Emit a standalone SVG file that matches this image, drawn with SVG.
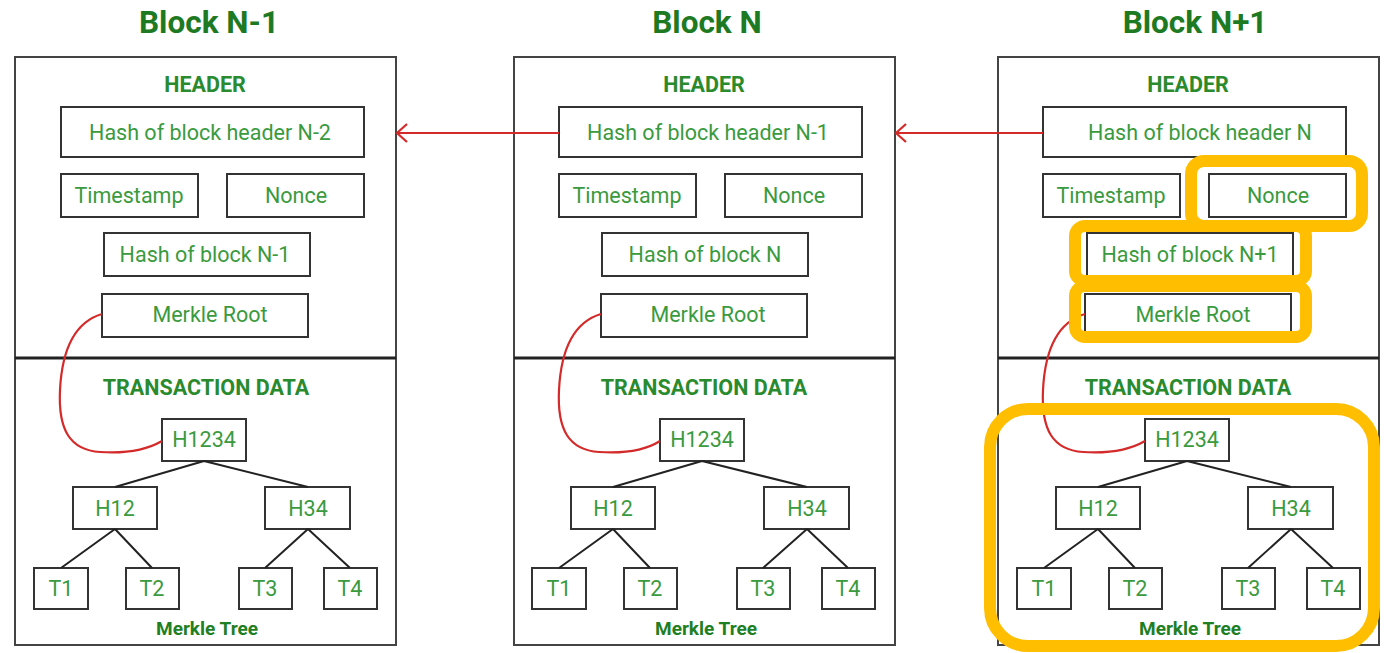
<svg xmlns="http://www.w3.org/2000/svg" width="1385" height="653" viewBox="0 0 1385 653">
<defs>
<style>
.title{font-family:Roboto,"Liberation Sans",sans-serif;font-weight:700;font-size:31.5px;fill:#1e7a22;text-anchor:middle}
.sec{font-family:Roboto,"Liberation Sans",sans-serif;font-weight:700;font-size:21.5px;fill:#2a8a2e;text-anchor:middle}
.cap{font-family:Roboto,"Liberation Sans",sans-serif;font-weight:700;font-size:19px;fill:#1f7f24;text-anchor:middle}
.lbl{font-family:Roboto,"Liberation Sans",sans-serif;font-size:21.5px;fill:#3a9a3e;text-anchor:middle}
.outer{fill:#fff;stroke:#444;stroke-width:2}
.div{stroke:#222;stroke-width:3}
.box{fill:#fff;stroke:#333;stroke-width:2}
.edge{stroke:#222;stroke-width:2;fill:none}
.red{stroke:#d42a2a;stroke-width:2.2;fill:none}
.hl{fill:none;stroke:#ffbf00;stroke-width:12}
</style>
<marker id="chev" markerUnits="userSpaceOnUse" viewBox="-1 -11 13 22" markerWidth="13" markerHeight="22" refX="10" refY="0" orient="auto">
<path d="M0,-9 L10,0 L0,9" fill="none" stroke="#d42a2a" stroke-width="2.2"/>
</marker>
</defs>
<rect width="1385" height="653" fill="#fff"/>

<!-- Block N-1 -->
<g id="block-n-1">
<text class="title" x="209" y="33">Block N-1</text>
<rect class="outer" x="15" y="57" width="381" height="588"/>
<line class="div" x1="15" y1="358" x2="396" y2="358"/>
<text class="sec" x="205" y="92">HEADER</text>
<text class="sec" x="206" y="395">TRANSACTION DATA</text>
<text class="cap" x="207" y="635">Merkle Tree</text>
<g id="b1-prevhash"><rect class="box" x="61" y="107" width="303" height="50"/><text class="lbl" x="210" y="140">Hash of block header N-2</text></g>
<g id="b1-timestamp"><rect class="box" x="61" y="174" width="137" height="43"/><text class="lbl" x="129" y="203">Timestamp</text></g>
<g id="b1-nonce"><rect class="box" x="227" y="174" width="137" height="43"/><text class="lbl" x="296" y="203">Nonce</text></g>
<g id="b1-hash"><rect class="box" x="104" y="233" width="206" height="43"/><text class="lbl" x="205" y="262">Hash of block N-1</text></g>
<g id="b1-merkleroot"><rect class="box" x="102" y="294" width="206" height="43"/><text class="lbl" x="210" y="322">Merkle Root</text></g>
<g id="b1-h1234"><rect class="box" x="162" y="419" width="84" height="42"/><text class="lbl" x="204" y="447">H1234</text></g>
<g id="b1-h12"><rect class="box" x="73" y="487" width="84" height="42"/><text class="lbl" x="115" y="516">H12</text></g>
<g id="b1-h34"><rect class="box" x="265" y="487" width="85" height="42"/><text class="lbl" x="308" y="516">H34</text></g>
<g id="b1-t1"><rect class="box" x="34" y="568" width="54" height="41"/><text class="lbl" x="61" y="596">T1</text></g>
<g id="b1-t2"><rect class="box" x="126" y="568" width="53" height="41"/><text class="lbl" x="152" y="596">T2</text></g>
<g id="b1-t3"><rect class="box" x="239" y="568" width="53" height="41"/><text class="lbl" x="265" y="596">T3</text></g>
<g id="b1-t4"><rect class="box" x="324" y="568" width="53" height="41"/><text class="lbl" x="350" y="596">T4</text></g>
</g>

<!-- Block N -->
<g id="block-n">
<text class="title" x="707" y="33">Block N</text>
<rect class="outer" x="514" y="57" width="381" height="588"/>
<line class="div" x1="514" y1="358" x2="895" y2="358"/>
<text class="sec" x="704" y="92">HEADER</text>
<text class="sec" x="704" y="395">TRANSACTION DATA</text>
<text class="cap" x="706" y="635">Merkle Tree</text>
<g id="b2-prevhash"><rect class="box" x="559" y="107" width="303" height="50"/><text class="lbl" x="708" y="140">Hash of block header N-1</text></g>
<g id="b2-timestamp"><rect class="box" x="559" y="174" width="137" height="43"/><text class="lbl" x="627" y="203">Timestamp</text></g>
<g id="b2-nonce"><rect class="box" x="725" y="174" width="137" height="43"/><text class="lbl" x="794" y="203">Nonce</text></g>
<g id="b2-hash"><rect class="box" x="602" y="233" width="206" height="43"/><text class="lbl" x="705" y="262">Hash of block N</text></g>
<g id="b2-merkleroot"><rect class="box" x="601" y="294" width="206" height="43"/><text class="lbl" x="708" y="322">Merkle Root</text></g>
<g id="b2-h1234"><rect class="box" x="660" y="419" width="84" height="42"/><text class="lbl" x="702" y="447">H1234</text></g>
<g id="b2-h12"><rect class="box" x="571" y="487" width="84" height="42"/><text class="lbl" x="613" y="516">H12</text></g>
<g id="b2-h34"><rect class="box" x="764" y="487" width="85" height="42"/><text class="lbl" x="807" y="516">H34</text></g>
<g id="b2-t1"><rect class="box" x="532" y="568" width="54" height="41"/><text class="lbl" x="559" y="596">T1</text></g>
<g id="b2-t2"><rect class="box" x="624" y="568" width="53" height="41"/><text class="lbl" x="650" y="596">T2</text></g>
<g id="b2-t3"><rect class="box" x="737" y="568" width="53" height="41"/><text class="lbl" x="763" y="596">T3</text></g>
<g id="b2-t4"><rect class="box" x="822" y="568" width="53" height="41"/><text class="lbl" x="848" y="596">T4</text></g>
</g>

<!-- Block N+1 -->
<g id="block-n1">
<text class="title" x="1195" y="33">Block N+1</text>
<rect class="outer" x="998" y="57" width="381" height="588"/>
<line class="div" x1="998" y1="358" x2="1379" y2="358"/>
<text class="sec" x="1188" y="92">HEADER</text>
<text class="sec" x="1188" y="395">TRANSACTION DATA</text>
<text class="cap" x="1190" y="635">Merkle Tree</text>
<g id="b3-prevhash"><rect class="box" x="1043" y="107" width="303" height="50"/><text class="lbl" x="1200" y="140">Hash of block header N</text></g>
<g id="b3-timestamp"><rect class="box" x="1043" y="174" width="137" height="43"/><text class="lbl" x="1111" y="203">Timestamp</text></g>
<g id="b3-nonce"><rect class="box" x="1209" y="174" width="137" height="43"/><text class="lbl" x="1278" y="203">Nonce</text></g>
<g id="b3-hash"><rect class="box" x="1087" y="233" width="206" height="43"/><text class="lbl" x="1190" y="262">Hash of block N+1</text></g>
<g id="b3-merkleroot"><rect class="box" x="1085" y="294" width="206" height="43"/><text class="lbl" x="1193" y="322">Merkle Root</text></g>
<g id="b3-h1234"><rect class="box" x="1145" y="419" width="84" height="42"/><text class="lbl" x="1187" y="447">H1234</text></g>
<g id="b3-h12"><rect class="box" x="1056" y="487" width="84" height="42"/><text class="lbl" x="1098" y="516">H12</text></g>
<g id="b3-h34"><rect class="box" x="1248" y="487" width="85" height="42"/><text class="lbl" x="1291" y="516">H34</text></g>
<g id="b3-t1"><rect class="box" x="1017" y="568" width="54" height="41"/><text class="lbl" x="1044" y="596">T1</text></g>
<g id="b3-t2"><rect class="box" x="1109" y="568" width="53" height="41"/><text class="lbl" x="1135" y="596">T2</text></g>
<g id="b3-t3"><rect class="box" x="1222" y="568" width="53" height="41"/><text class="lbl" x="1248" y="596">T3</text></g>
<g id="b3-t4"><rect class="box" x="1307" y="568" width="53" height="41"/><text class="lbl" x="1333" y="596">T4</text></g>
</g>

<!-- Connectors -->
<g id="connectors">
<path class="edge" d="M204,461 L115,487 M204,461 L308,487 M115,529 L61,568 M115,529 L152,568 M308,529 L265,568 M308,529 L350,568"/>
<path class="edge" d="M702,461 L613,487 M702,461 L807,487 M613,529 L559,568 M613,529 L650,568 M807,529 L763,568 M807,529 L848,568"/>
<path class="edge" d="M1187,461 L1098,487 M1187,461 L1291,487 M1098,529 L1044,568 M1098,529 L1135,568 M1291,529 L1248,568 M1291,529 L1333,568"/>
<path class="red" d="M102,314 C75,322 62,350 60,390 C58,430 70,450 100,452 C130,454 150,448 162,441"/>
<path class="red" d="M601,314 C574,322 561,350 559,390 C557,430 569,450 599,452 C629,454 649,448 660,441"/>
<path class="red" d="M1085,314 C1058,322 1045,350 1043,390 C1041,430 1053,450 1083,452 C1113,454 1133,448 1145,441"/>
<line class="red" x1="559" y1="133" x2="397" y2="133" marker-end="url(#chev)"/>
<line class="red" x1="1043" y1="133" x2="896" y2="133" marker-end="url(#chev)"/>
</g>

<!-- Highlights -->
<g id="highlights">
<rect class="hl" x="1191" y="161" width="171" height="65" rx="13"/>
<rect class="hl" x="1075" y="226" width="231" height="55" rx="10"/>
<rect class="hl" x="1075" y="286" width="231" height="51" rx="10"/>
<rect class="hl" x="990" y="409" width="384" height="237" rx="38"/>
</g>
</svg>
